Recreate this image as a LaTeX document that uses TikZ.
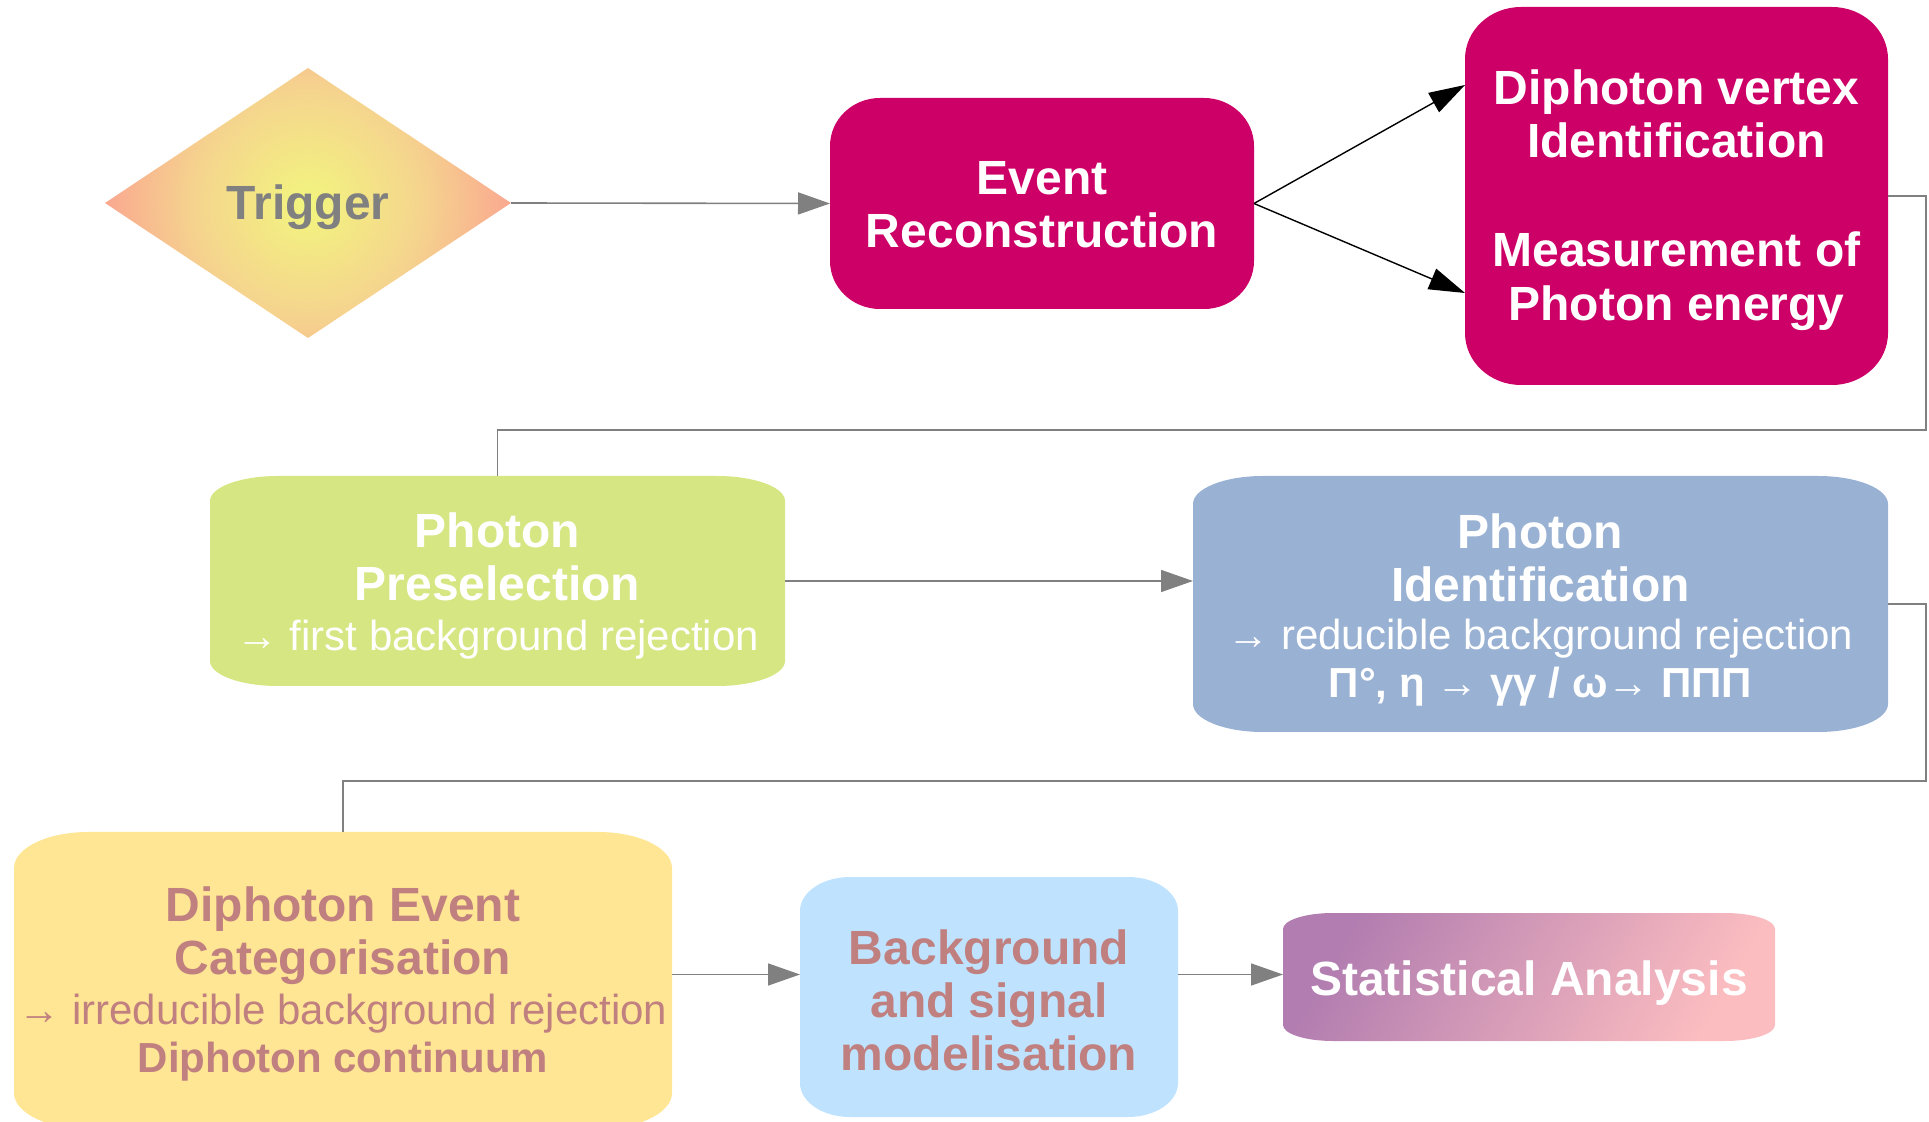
\documentclass[tikz,border=0pt]{standalone}
\usepackage{fontspec}
\setmainfont{Liberation Sans}
\usetikzlibrary{arrows.meta,calc}
\definecolor{mag}{HTML}{CC0066}
\definecolor{preC}{HTML}{D6E682}
\definecolor{idC}{HTML}{99B1D3}
\definecolor{catC}{HTML}{FFE694}
\definecolor{bgC}{HTML}{BFE3FE}
\definecolor{statA}{HTML}{B27DB0}
\definecolor{statB}{HTML}{FCBDC0}
\definecolor{rose}{HTML}{C08080}
\definecolor{lineG}{HTML}{808080}
\definecolor{trigA}{HTML}{F2F57E}
\definecolor{trigB}{HTML}{F5D48E}
\definecolor{trigC}{HTML}{FAA890}
\pgfdeclareradialshading{trigshade}{\pgfpoint{0bp}{0bp}}{color(0bp)=(trigA); color(14bp)=(trigB); color(25bp)=(trigC); color(50bp)=(trigC)}
\newcommand{\subreg}{\fontsize{21}{23}\selectfont\mdseries}
\newcommand{\subbold}{\fontsize{21}{23}\selectfont\bfseries}
% #1 node name, #2 x radius, #3 y radius, #4 path options
\newcommand{\ebox}[4]{\path[#4] ([xshift=#2]#1.north west) -- ([xshift=-#2]#1.north east)
  arc[start angle=90,end angle=0,x radius=#2,y radius=#3] -- ([yshift=#3]#1.south east)
  arc[start angle=0,end angle=-90,x radius=#2,y radius=#3] -- ([xshift=#2]#1.south west)
  arc[start angle=270,end angle=180,x radius=#2,y radius=#3] -- ([yshift=-#3]#1.north west)
  arc[start angle=180,end angle=90,x radius=#2,y radius=#3] -- cycle;}
\tikzset{
  holder/.style={rectangle, inner sep=0pt, outer sep=0pt, draw=none},
  txt/.style={align=center, inner sep=0pt, font=\fontsize{24}{26.5}\selectfont\bfseries},
  gline/.style={draw=lineG, line width=0.8pt, -{Triangle[length=16pt,width=11pt]}, color=lineG},
  gplain/.style={draw=lineG, line width=0.8pt},
  bline/.style={draw=black, line width=0.7pt, -{Triangle[length=18pt,width=11pt]}},
}
\begin{document}
\begin{tikzpicture}[x=0.5pt,y=-0.5pt]
\useasboundingbox (0,0) rectangle (1929,1122);
\clip (0,0) rectangle (1929,1122);
% holders
\node[holder, minimum width=203pt, minimum height=135pt] (trig) at (308,203) {};
\node[holder, minimum width=212pt, minimum height=105.5pt] (er) at (1042,203.5) {};
\node[holder, minimum width=211.5pt, minimum height=189pt] (dip) at (1676.5,196) {};
\node[holder, minimum width=287.5pt, minimum height=105pt] (pre) at (497.5,581) {};
\node[holder, minimum width=347.5pt, minimum height=128pt] (id) at (1540.5,604) {};
\node[holder, minimum width=329pt, minimum height=148.5pt] (cat) at (343,980.5) {};
\node[holder, minimum width=189pt, minimum height=120pt] (bg) at (989,997) {};
\node[holder, minimum width=246pt, minimum height=64pt] (stat) at (1529,977) {};
% shapes
\begin{scope}
\clip (trig.north) -- (trig.east) -- (trig.south) -- (trig.west) -- cycle;
\shade[shading=trigshade] (trig.center) circle[radius=101.5pt];
\end{scope}
\ebox{er}{25pt}{24pt}{fill=mag}
\ebox{dip}{28pt}{26pt}{fill=mag}
\ebox{pre}{34pt}{12.5pt}{fill=preC}
\ebox{id}{35pt}{14pt}{fill=idC}
\ebox{cat}{37pt}{18pt}{fill=catC}
\ebox{bg}{25pt}{17pt}{fill=bgC}
\ebox{stat}{25pt}{8pt}{shade, top color=statA, bottom color=statB, shading angle=60}
% texts
\node[txt, text=lineG] (trigT) at ([yshift=-2pt]trig.center) {Trigger};
\node[txt, text=white] (erT) at ([yshift=-0.6pt]er.center) {Event\\Reconstruction};
\node[txt, text=white] (dipT) at ([yshift=-2pt]dip.center) {Diphoton vertex\\[0.4pt]Identification\\[28pt]Measurement of\\[0.4pt]Photon energy};
\node[txt, text=white] (preT) at ([yshift=-2.5pt]pre.center) {Photon\\Preselection\\[-1.8pt]\subreg → first background rejection};
\node[txt, text=white] (idT) at ([yshift=-2.8pt]id.center) {Photon\\Identification\\[-2.5pt]\subreg → reducible background rejection\\[-2.5pt]\subbold Π°, η → γγ / ω→ ΠΠΠ};
\node[txt, text=rose] (catT) at ([yshift=-1.75pt]cat.center) {Diphoton Event\\Categorisation\\[-1.5pt]\subreg → irreducible background rejection\\[-2.5pt]\subbold Diphoton continuum};
\node[txt, text=rose] (bgT) at ([yshift=-1.5pt]bg.center) {Background\\and signal\\modelisation};
\node[txt, text=white] (statT) at ([yshift=-3pt]stat.center) {Statistical Analysis};
% connectors
\coordinate (e1) at (1926,430);
\coordinate (e2) at (1926,781);
\coordinate (lv) at ([yshift=3pt]cat.east);
\draw[gline] (trig.east) -- (er.west);
\draw[bline] (er.east) -- ([yshift=55.5pt]dip.west);
\draw[bline] (er.east) -- ([yshift=-48.5pt]dip.west);
\draw[gplain] (dip.east) -| (e1) -| (pre.north);
\draw[gline] (pre.east) -- (pre.east -| id.west);
\draw[gplain] (id.east) -| (e2) -| (cat.north);
\draw[gline] (lv) -- (lv -| bg.west);
\draw[gline] (lv -| bg.east) -- (lv -| stat.west);
\end{tikzpicture}
\end{document}
